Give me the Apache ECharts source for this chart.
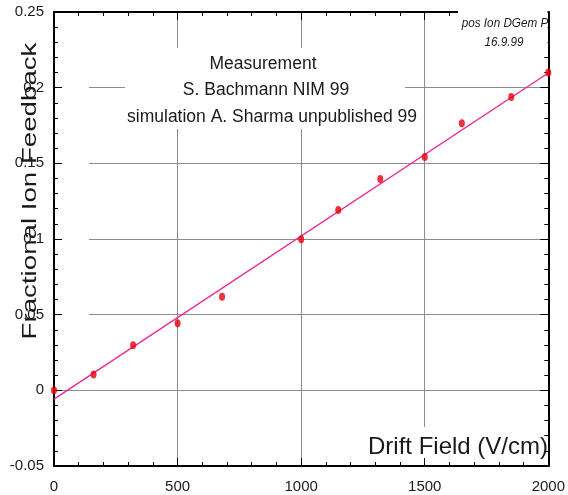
<!DOCTYPE html>
<html>
<head>
<meta charset="utf-8">
<script src="https://cdn.jsdelivr.net/npm/echarts@6/dist/echarts.min.js"></script>
<style>
  html, body { margin: 0; padding: 0; background: #ffffff; }
  #chart { width: 568px; height: 495px; }
</style>
</head>
<body>
<div id="chart"></div>
<script>
// Measured data points (Drift Field V/cm, Fractional Ion Feedback)
const driftField = [0, 160, 320, 500, 680, 1000, 1150, 1320, 1500, 1650, 1850, 2000];
const feedback   = [0, 0.0105, 0.0298, 0.0443, 0.0618, 0.0998, 0.1192, 0.1396, 0.1542, 0.1765, 0.1938, 0.2100];
// Simulation line (straight line end points)
const simX = [0, 2000];
const simY = [-0.0058, 0.2097];
// Axis settings
const xTicks = { min: 0, max: 2000, interval: 500 };
const yTicks = { min: -0.05, max: 0.25, interval: 0.05 };
// Texts
const yTitle = 'Fractional Ion Feedback';
const xTitle = 'Drift Field (V/cm)';
const noteLines = ['Measurement', 'S. Bachmann NIM 99', 'simulation A. Sharma unpublished 99'];
const stampLines = ['pos Ion DGem P', '16.9.99'];

const chart = echarts.init(document.getElementById('chart'), null, { renderer: 'canvas' });
const FONT = "'Liberation Sans', Arial, Helvetica, sans-serif";
const TXT = '#1a1a1a';

function pair(a, b) { return a.map((v, i) => [v, b[i]]); }

function gridAxis(dim, pos) {
  const t = dim === 'x' ? xTicks : yTicks;
  return {
    type: 'value', position: pos, min: t.min, max: t.max, interval: t.interval, z: 0,
    axisLine: { show: false }, axisTick: { show: false }, axisLabel: { show: false },
    splitLine: { show: true, lineStyle: { color: '#8c8c8c', width: 1 } }
  };
}
function frameAxis(dim, pos, labels) {
  const t = dim === 'x' ? xTicks : yTicks;
  return {
    type: 'value', position: pos, min: t.min, max: t.max, interval: t.interval, z: 5,
    axisLine: { show: true, onZero: false, lineStyle: { color: '#000', width: 2 } },
    axisTick: { show: true, inside: true, length: 8, lineStyle: { color: '#000', width: 1 } },
    minorTick: { show: true, splitNumber: 5, length: 4, lineStyle: { color: '#000', width: 1 } },
    splitLine: { show: false },
    axisLabel: { show: labels, color: TXT, fontFamily: FONT, fontSize: 15,
                 margin: dim === 'x' ? 13 : 10,
                 formatter: function (v) { return String(+v.toFixed(4)); } }
  };
}

const option = {
  backgroundColor: '#ffffff',
  animation: false,
  grid: { left: 54, right: 18, top: 12, bottom: 29, containLabel: false },
  xAxis: [gridAxis('x', 'bottom'), frameAxis('x', 'bottom', true), frameAxis('x', 'top', false)],
  yAxis: [gridAxis('y', 'left'), frameAxis('y', 'left', true), frameAxis('y', 'right', false)],
  series: [
    {
      type: 'line', xAxisIndex: 0, yAxisIndex: 0, z: 10,
      data: pair(simX, simY), showSymbol: false, symbol: 'none',
      lineStyle: { color: '#f0238f', width: 1.3 }
    },
    {
      type: 'scatter', xAxisIndex: 0, yAxisIndex: 0, z: 11,
      data: pair(driftField, feedback), symbol: 'circle', symbolSize: [6, 8],
      itemStyle: { color: '#e6000c' }
    }
  ],
  graphic: [
    { type: 'rect', z: 2, shape: { x: 56, y: 40, width: 33, height: 305 }, style: { fill: '#fff' } },
    { type: 'rect', z: 2, shape: { x: 125, y: 48, width: 280, height: 81 }, style: { fill: '#fff' } },
    { type: 'rect', z: 2, shape: { x: 365, y: 427, width: 183, height: 38 }, style: { fill: '#fff' } },
    { type: 'rect', z: 6, shape: { x: 458, y: 0, width: 89.5, height: 50 }, style: { fill: '#fff' } },
    { type: 'text', z: 8, x: 30, y: 191, rotation: Math.PI / 2, scaleX: 1.35,
      style: { text: yTitle, fill: TXT, font: '20.5px ' + FONT, textAlign: 'center', textVerticalAlign: 'middle' } },
    { type: 'text', z: 8, x: 263, y: 64,
      style: { text: noteLines[0], fill: TXT, font: '17.5px ' + FONT, textAlign: 'center', textVerticalAlign: 'middle' } },
    { type: 'text', z: 8, x: 266, y: 90,
      style: { text: noteLines[1], fill: TXT, font: '17.5px ' + FONT, textAlign: 'center', textVerticalAlign: 'middle' } },
    { type: 'text', z: 8, x: 272, y: 117,
      style: { text: noteLines[2], fill: TXT, font: '17.5px ' + FONT, textAlign: 'center', textVerticalAlign: 'middle' } },
    { type: 'text', z: 8, x: 548, y: 447,
      style: { text: xTitle, fill: TXT, font: '24px ' + FONT, textAlign: 'right', textVerticalAlign: 'middle' } },
    { type: 'text', z: 8, x: 505, y: 23, scaleX: 0.9,
      style: { text: stampLines[0], fill: TXT, font: 'italic 13px ' + FONT, textAlign: 'center', textVerticalAlign: 'middle' } },
    { type: 'text', z: 8, x: 504, y: 42, scaleX: 0.9,
      style: { text: stampLines[1], fill: TXT, font: 'italic 13px ' + FONT, textAlign: 'center', textVerticalAlign: 'middle' } }
  ]
};
chart.setOption(option);
</script>
</body>
</html>
